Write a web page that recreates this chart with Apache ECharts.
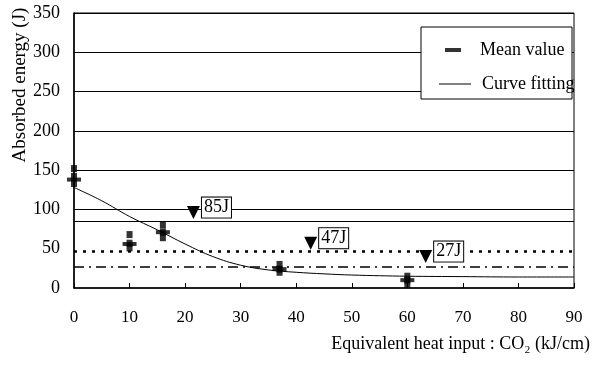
<!DOCTYPE html>
<html>
<head>
<meta charset="utf-8">
<script src="https://cdn.jsdelivr.net/npm/echarts@6/dist/echarts.min.js"></script>
<style>
  html, body { margin: 0; padding: 0; background: #fff; }
  #chart { width: 593px; height: 365px; }
</style>
</head>
<body>
<div id="chart"></div>
<script>
// heat input (kJ/cm) for each test group
var heatInput = [0, 10, 16, 37, 60];
var meanValues = [138, 56, 71, 24, 10];
// individual specimens (x, J)
var specimenX = [0, 0, 0, 10, 10, 10, 16, 16, 16, 37, 37, 37, 60, 60, 60];
var specimenY = [152, 142, 133, 68, 57, 51, 80, 71, 64, 30, 24, 20, 15, 10, 5];

var fitX = [0, 5, 10, 15, 20, 25, 30, 35, 40, 45, 50, 60, 70, 80, 90];
var fitY = [128, 111, 91, 74, 56, 40, 29, 23, 20, 18, 16.5, 15, 14.5, 14, 14];

// required energy levels
var levelNames = ['85J', '47J', '27J'];
var levelValues = [85, 47, 27];
var markerX = [21.5, 42.6, 63.3];
var markerY = [96, 57, 40];

var xTicks = [0, 10, 20, 30, 40, 50, 60, 70, 80, 90];
var yTicks = [0, 50, 100, 150, 200, 250, 300, 350];

var font = '"Liberation Serif", "DejaVu Serif", serif';

var myChart = echarts.init(document.getElementById('chart'));

var option = {
  animation: false,
  backgroundColor: '#fff',
  grid: { left: 74, right: 18, top: 13, bottom: 77, show: true, borderColor: '#000', borderWidth: 1 },
  xAxis: {
    type: 'value', min: xTicks[0], max: xTicks[xTicks.length - 1], interval: 10,
    axisLine: { lineStyle: { color: '#000', width: 1.5 } },
    axisTick: { inside: true, length: 5, lineStyle: { color: '#000' } },
    axisLabel: { color: '#000', fontFamily: font, fontSize: 17, margin: 21 },
    splitLine: { show: false },
    name: 'Equivalent heat input : CO\u2082 (kJ/cm)',
    nameLocation: 'end', nameGap: 16,
    nameTextStyle: { color: '#000', fontFamily: font, fontSize: 18, align: 'right', verticalAlign: 'top', padding: [47, 0, 0, 0] }
  },
  yAxis: {
    type: 'value', min: yTicks[0], max: yTicks[yTicks.length - 1], interval: 50,
    axisLine: { show: true, lineStyle: { color: '#000', width: 1.5 } },
    axisTick: { show: false },
    axisLabel: { color: '#000', fontFamily: font, fontSize: 18, margin: 14 },
    splitLine: { show: true, lineStyle: { color: ['transparent', 'transparent', '#000', '#000', '#000', '#000', '#000', '#000'], width: 1 } }
  },
  graphic: [
    { type: 'text', x: 20, y: 85, rotation: Math.PI / 2,
      style: { text: 'Absorbed energy (J)', font: '19px ' + font, fill: '#000', textAlign: 'center', textVerticalAlign: 'middle' } },
    { type: 'rect', shape: { x: 421, y: 27, width: 151, height: 72 },
      style: { fill: '#fff', stroke: '#000', lineWidth: 1 }, z: 10 }
  ],
  legend: [
    { data: ['Mean value'], left: 440, top: 36, itemWidth: 16, itemHeight: 4, icon: 'rect', z: 20,
      textStyle: { fontFamily: font, fontSize: 18, color: '#000', padding: [0, 0, 0, 14] } },
    { data: [{ name: 'Curve fitting', icon: 'rect' }], left: 434, top: 70, itemWidth: 32, itemHeight: 1, z: 20,
      itemStyle: { color: '#000' },
      textStyle: { fontFamily: font, fontSize: 18, color: '#000', padding: [0, 0, 0, 6] } }
  ],
  series: [
    {
      name: 'Curve fitting', type: 'line', smooth: 0.4, showSymbol: false, symbol: 'none',
      data: fitX.map(function (x, i) { return [x, fitY[i]]; }),
      itemStyle: { color: '#000' },
      lineStyle: { color: '#000', width: 1 },
      markLine: {
        silent: true, symbol: 'none', label: { show: false },
        data: [
          { yAxis: levelValues[0], lineStyle: { color: '#000', width: 1, type: 'solid' } },
          { yAxis: levelValues[1], lineStyle: { color: '#000', width: 2.5, type: [3, 6] } },
          { yAxis: levelValues[2], lineStyle: { color: '#000', width: 1.5, type: [10, 5, 2, 5] } }
        ]
      },
      z: 3
    },
    {
      name: 'specimens', type: 'scatter', symbol: 'rect', symbolSize: [6, 7],
      data: specimenX.map(function (x, i) { return [x, specimenY[i]]; }),
      itemStyle: { color: '#000' }, z: 4
    },
    {
      name: 'Mean value', type: 'scatter', symbol: 'rect', symbolSize: [14, 4],
      data: heatInput.map(function (x, i) { return [x, meanValues[i]]; }),
      itemStyle: { color: '#000' }, z: 5
    },
    {
      name: 'levels', type: 'scatter', symbol: 'triangle', symbolRotate: 180, symbolSize: [13, 13],
      data: markerX.map(function (x, i) { return { value: [x, markerY[i]], name: levelNames[i] }; }),
      itemStyle: { color: '#000', opacity: 1 },
      label: {
        show: true, position: 'right', distance: 2, offset: [0, -5], opacity: 1,
        formatter: '{b}', fontFamily: font, fontSize: 18, color: '#000',
        backgroundColor: '#fff', borderColor: '#000', borderWidth: 1, padding: [2, 2, 0, 2]
      },
      z: 6
    }
  ]
};

myChart.setOption(option);
</script>
</body>
</html>
